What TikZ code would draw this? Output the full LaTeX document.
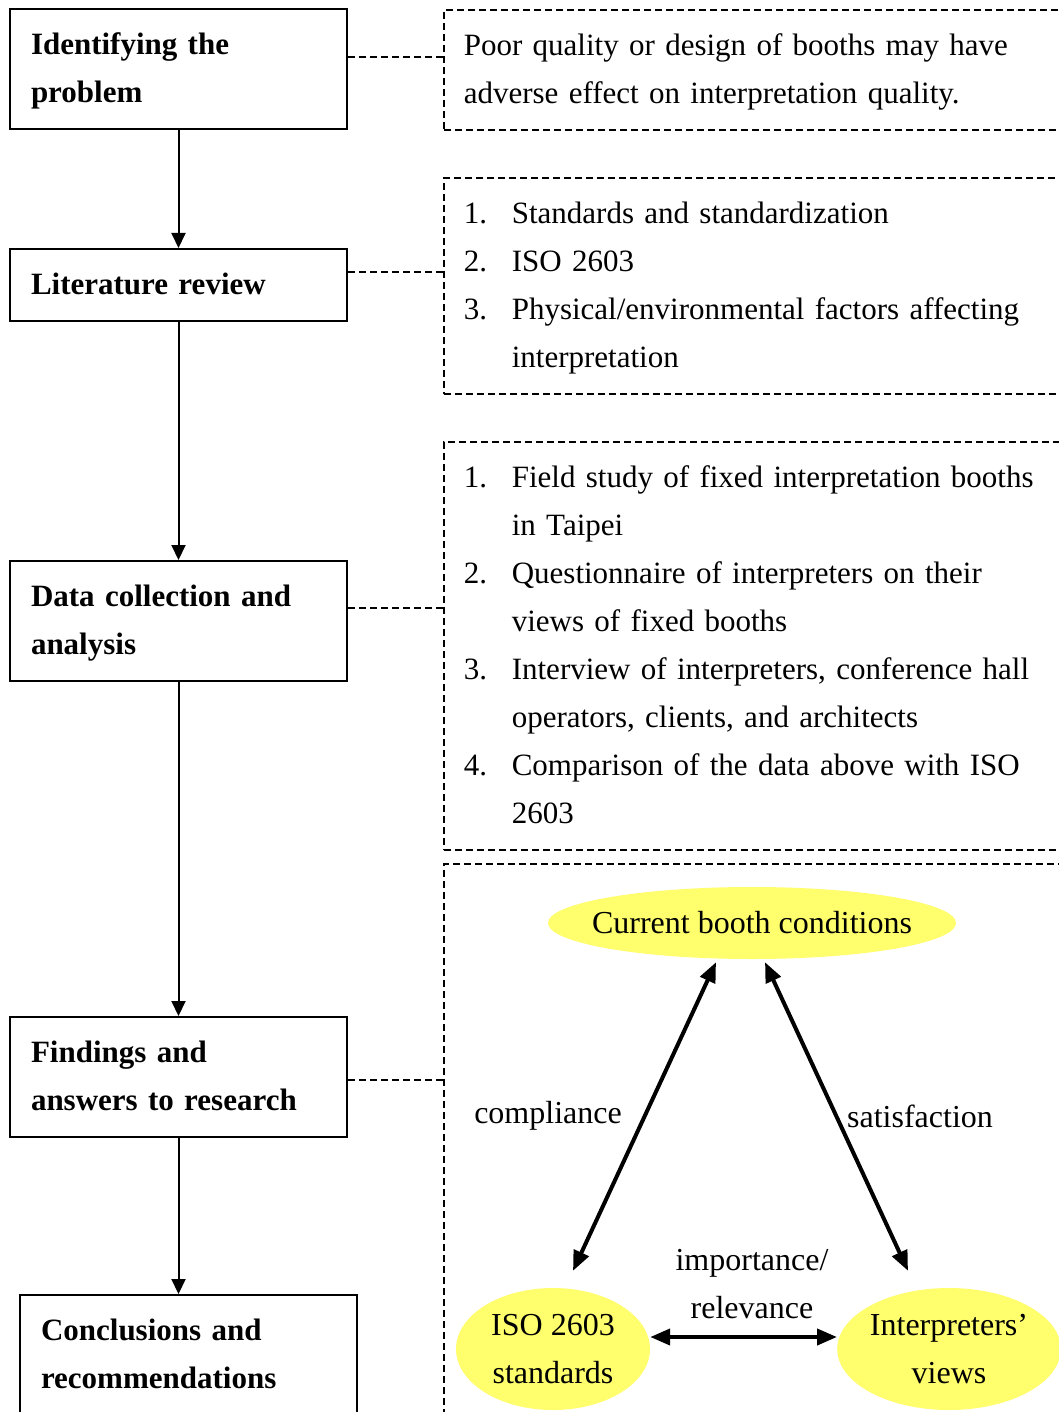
\documentclass[tikz,border=0pt]{standalone}
\usepackage{fontspec}
\setmainfont{Liberation Serif}
\usepackage{tikz}
\usetikzlibrary{arrows.meta,positioning,shapes.geometric}
\definecolor{boothyellow}{RGB}{255,255,110}
\newcommand{\numitem}[1]{\makebox[48pt][l]{#1}}
\tikzset{
  box/.style={rectangle, draw=black, line width=2pt, align=left, text width=295pt, inner xsep=21pt, minimum height=120pt, execute at begin node=\strut, execute at end node=\strut, font=\fontsize{31pt}{48pt}\selectfont\bfseries},
  note/.style={rectangle, draw=black, line width=1.6pt, dash pattern=on 7pt off 4pt, align=left, text width=592pt, inner xsep=20pt, anchor=north west, execute at begin node=\strut, execute at end node=\strut},
  link/.style={draw=black, line width=1.6pt, dash pattern=on 7pt off 4pt},
  arrow/.style={-{Triangle[length=15pt,width=14pt]}, line width=2pt},
  bubble/.style={ellipse, fill=boothyellow, inner sep=0pt, align=center, font=\fontsize{32pt}{48pt}\selectfont},
  tag/.style={font=\fontsize{32pt}{48pt}\selectfont, align=center},
  twoway/.style={{Triangle[length=20pt,width=16pt]}-{Triangle[length=20pt,width=16pt]}, line width=4pt}
}
\begin{document}
\begin{tikzpicture}[x=1pt, y=-1pt, font=\fontsize{31pt}{48pt}\selectfont]
\useasboundingbox (0,0) rectangle (1059,1412);
\node[box] (ident) at (178.5,69) {Identifying the\\problem};
\node[box, minimum height=72pt, below=118pt of ident] (lit) {Literature review};
\node[box, below=238pt of lit] (data) {Data collection and\\analysis};
\node[box, below=334pt of data] (find) {Findings and\\answers to research};
\node[box, below=156pt of find, xshift=10pt] (concl) {Conclusions and\\recommendations};
\node[note, minimum height=120pt] (prob) at (443,9) {Poor quality or design of booths may have\\adverse effect on interpretation quality.};
\node[note, minimum height=216pt] (rev) at (443,177) {\numitem{1.}Standards and standardization\\\numitem{2.}ISO 2603\\\numitem{3.}Physical/environmental factors affecting\\\hspace*{48pt}interpretation};
\node[note, minimum height=408pt] (field) at (443,441) {\numitem{1.}Field study of fixed interpretation booths\\\hspace*{48pt}in Taipei\\\numitem{2.}Questionnaire of interpreters on their\\\hspace*{48pt}views of fixed booths\\\numitem{3.}Interview of interpreters, conference hall\\\hspace*{48pt}operators, clients, and architects\\\numitem{4.}Comparison of the data above with ISO\\\hspace*{48pt}2603};
\node[note, minimum height=567pt] (model) at (443,863) {};
\node[bubble, minimum width=408pt, minimum height=72pt] (cond) at (752,923) {\makebox[0pt]{Current booth conditions}};
\node[bubble, minimum width=194pt, minimum height=122pt] (iso) at (553,1349) {ISO 2603\\standards};
\node[bubble, minimum width=218pt, minimum height=122pt] (interp) at (949,1349) {Interpreters'\\views};
\node[tag] (comp) at (548,1116) {compliance};
\node[tag] (sat) at (920,1116) {satisfaction};
\node[tag] (imp) at (752,1284) {importance/\\relevance};
\draw[arrow] (ident) -- (lit);
\draw[arrow] (lit) -- (data);
\draw[arrow] (data) -- (find);
\draw[arrow] (find) -- (find |- concl.north);
\draw[link] ([yshift=12pt]ident.east) -- ([yshift=12pt]ident.east -| prob.west);
\draw[link] ([yshift=13pt]lit.east) -- ([yshift=13pt]lit.east -| rev.west);
\draw[link] ([yshift=13pt]data.east) -- ([yshift=13pt]data.east -| field.west);
\draw[link] ([yshift=-3pt]find.east) -- ([yshift=-3pt]find.east -| model.west);
\draw[twoway] ([xshift=-36pt,yshift=-3pt]cond.south) -- ([xshift=20pt,yshift=17pt]iso.north);
\draw[twoway] ([xshift=13pt,yshift=-3pt]cond.south) -- ([xshift=-41pt,yshift=17pt]interp.north);
\draw[twoway] ([yshift=12pt]iso.east) -- ([yshift=12pt]interp.west);
\end{tikzpicture}
\end{document}
